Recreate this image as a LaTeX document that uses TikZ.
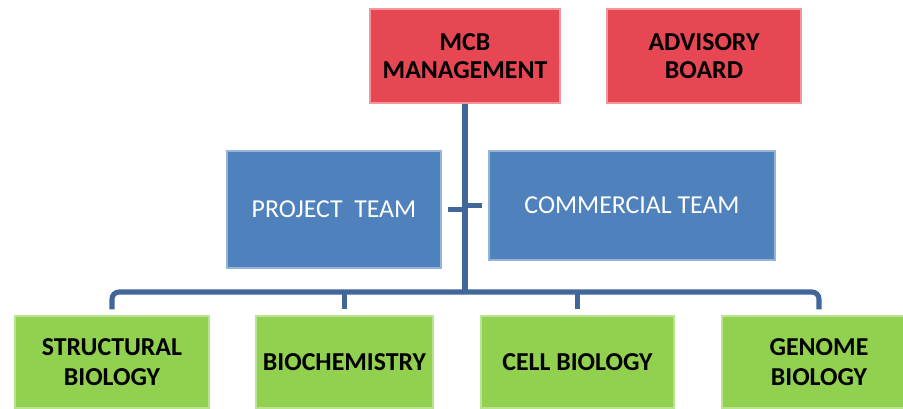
\documentclass[tikz,border=0pt]{standalone}
\usepackage{fontspec}
\setmainfont{Carlito}
\usetikzlibrary{positioning}
\definecolor{mgmtred}{RGB}{230,71,83}
\definecolor{mgmtredline}{RGB}{240,150,156}
\definecolor{teamblue}{RGB}{79,129,189}
\definecolor{teamblueline}{RGB}{150,180,215}
\definecolor{groupgreen}{RGB}{146,208,80}
\definecolor{groupgreenline}{RGB}{185,228,145}
\definecolor{linkblue}{RGB}{65,102,154}

\begin{document}
\begin{tikzpicture}
    [
    box/.style={rectangle,inner sep=0pt,align=center,line width=0.6pt},
    board/.style={box,fill=mgmtred,draw=mgmtredline,font=\fontsize{14.7}{16}\selectfont\bfseries,minimum width=3.8cm,minimum height=1.88cm},
    team/.style={box,fill=teamblue,draw=teamblueline,text=white,font=\fontsize{14.7}{16}\selectfont},
    group/.style={box,fill=groupgreen,draw=groupgreenline,font=\fontsize{14.7}{17}\selectfont\bfseries,minimum width=3.88cm,minimum height=1.84cm},
    link/.style={draw=linkblue,line width=2.9pt},
    ]
    \clip (0,0) rectangle (18.06,8.16);
    \node (mcb) at (9.30,7.04) [board] {MCB\\MANAGEMENT};
    \node (adv) at (14.08,7.04) [board, minimum width=3.88cm] {ADVISORY\\BOARD};
    \node (proj) at (6.68,3.97) [team, minimum width=4.28cm, minimum height=2.34cm] {PROJECT\ \ TEAM};
    \node (comm) at (12.64,4.05) [team, minimum width=5.72cm, minimum height=2.18cm] {COMMERCIAL TEAM};
    \node (sb) at (2.24,0.92) [group] {STRUCTURAL\\BIOLOGY};
    \node (bc) at (6.89,0.92) [group, minimum width=3.54cm] {BIOCHEMISTRY};
    \node (cb) at (11.55,0.92) [group, minimum width=3.86cm] {CELL BIOLOGY};
    \node (gb) at (16.38,0.92) [group] {GENOME\\BIOLOGY};
    \coordinate (bus) at (9.30,2.32);

    \draw [link, line width=3.3pt] (mcb) -- (bus);
    \draw [link, shorten <=0.12cm] (proj.east) -- (proj.east -| mcb.south);
    \draw [link, shorten >=0.12cm] (comm.west -| mcb.south) -- (comm.west);
    \draw [link, rounded corners=4pt, shorten <=0.12cm, shorten >=0.12cm] (sb.north) |- (bus) -| (gb.north);
    \draw [link, shorten >=0.12cm] (bc.north |- bus) -- (bc.north);
    \draw [link, shorten >=0.12cm] (cb.north |- bus) -- (cb.north);
  \end{tikzpicture}
\end{document}
